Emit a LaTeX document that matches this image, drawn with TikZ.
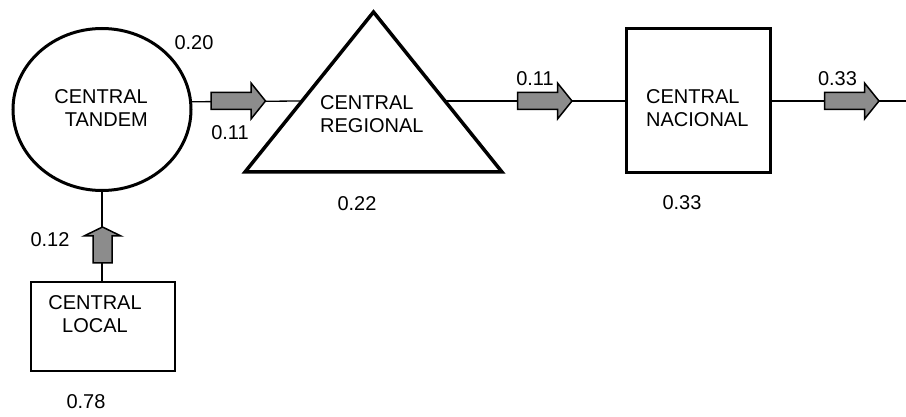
\documentclass[tikz,border=0pt]{standalone}
\usepackage{fontspec}
\setmainfont{Liberation Sans}
\usetikzlibrary{shapes.geometric}
\definecolor{arrowgray}{RGB}{140,140,140}
\begin{document}
\begin{tikzpicture}[x=1pt,y=-1pt,
  every node/.style={font=\fontsize{20}{23}\selectfont},
  txt/.style={inner sep=0pt},
  num/.style={inner sep=0pt},
  thickshape/.style={draw,line width=3pt,inner sep=0pt,outer sep=0pt},
  conn/.style={line width=1.3pt},
  blk/.style={draw,line width=1.5pt,fill=arrowgray,line join=miter},
  harrow/.pic={\path[blk] (-27,-8.5) -- (13,-8.5) -- (13,-18) -- (27.5,0) -- (13,18) -- (13,8.5) -- (-27,8.5) -- cycle;},
  varrow/.pic={\path[blk] (-9.5,18) -- (-9.5,-9) -- (-18.5,-9) -- (0,-18) -- (18.5,-9) -- (9.5,-9) -- (9.5,18) -- cycle;}
]
\useasboundingbox (0,0) rectangle (906,417);

% shapes
\node[thickshape,ellipse,minimum width=178pt,minimum height=162pt] (tandem) at (102,109.5) {};
\coordinate (regA) at (373.5,12);
\coordinate (regL) at (245,172);
\coordinate (regR) at (502,172);
\draw[line width=3.5pt,line join=miter] (regA) -- (regR) -- (regL) -- cycle;
\coordinate (regW) at (302,101);
\coordinate (regE) at (445,101);
\node[thickshape,rectangle,minimum width=144pt,minimum height=144pt] (nacional) at (698.5,101) {};
\node[draw,line width=2pt,rectangle,inner sep=0pt,outer sep=0pt,minimum width=144pt,minimum height=89pt] (local) at (103,326.5) {};
\coordinate (rightend) at (906,101);

% shape texts
\node[txt,align=right,anchor=east] (tandemtxt) at (148,108.5) {CENTRAL\\TANDEM};
\node[txt,align=left,anchor=west] (regionaltxt) at (320,114) {CENTRAL\\REGIONAL};
\node[txt,align=left,anchor=west] (nacionaltxt) at (646,108) {CENTRAL\\NACIONAL};
\node[txt,align=center] (localtxt) at (95,314) {CENTRAL\\LOCAL};

% connectors
\draw[conn] (tandem.5.7) -- (regW);
\draw[conn] (regE) -- (regE -| nacional.west);
\draw[conn] (nacional.east |- rightend) -- (rightend);
\draw[conn] (local.north -| 102,0) -- (tandem.south -| 102,0);

% block arrows
\pic at (238,101) {harrow};
\pic at (544.5,101) {harrow};
\pic at (851.5,101) {harrow};
\pic at (102.5,245) {varrow};

% numbers
\node[num] (n020) at (194,43) {0.20};
\node[num] (n011a) at (230,133) {0.11};
\node[num] (n022) at (357,204) {0.22};
\node[num] (n011b) at (535,79) {0.11};
\node[num] (n033a) at (837.5,79) {0.33};
\node[num] (n033b) at (682,203) {0.33};
\node[num] (n012) at (50,240) {0.12};
\node[num] (n078) at (86,402) {0.78};
\end{tikzpicture}
\end{document}
